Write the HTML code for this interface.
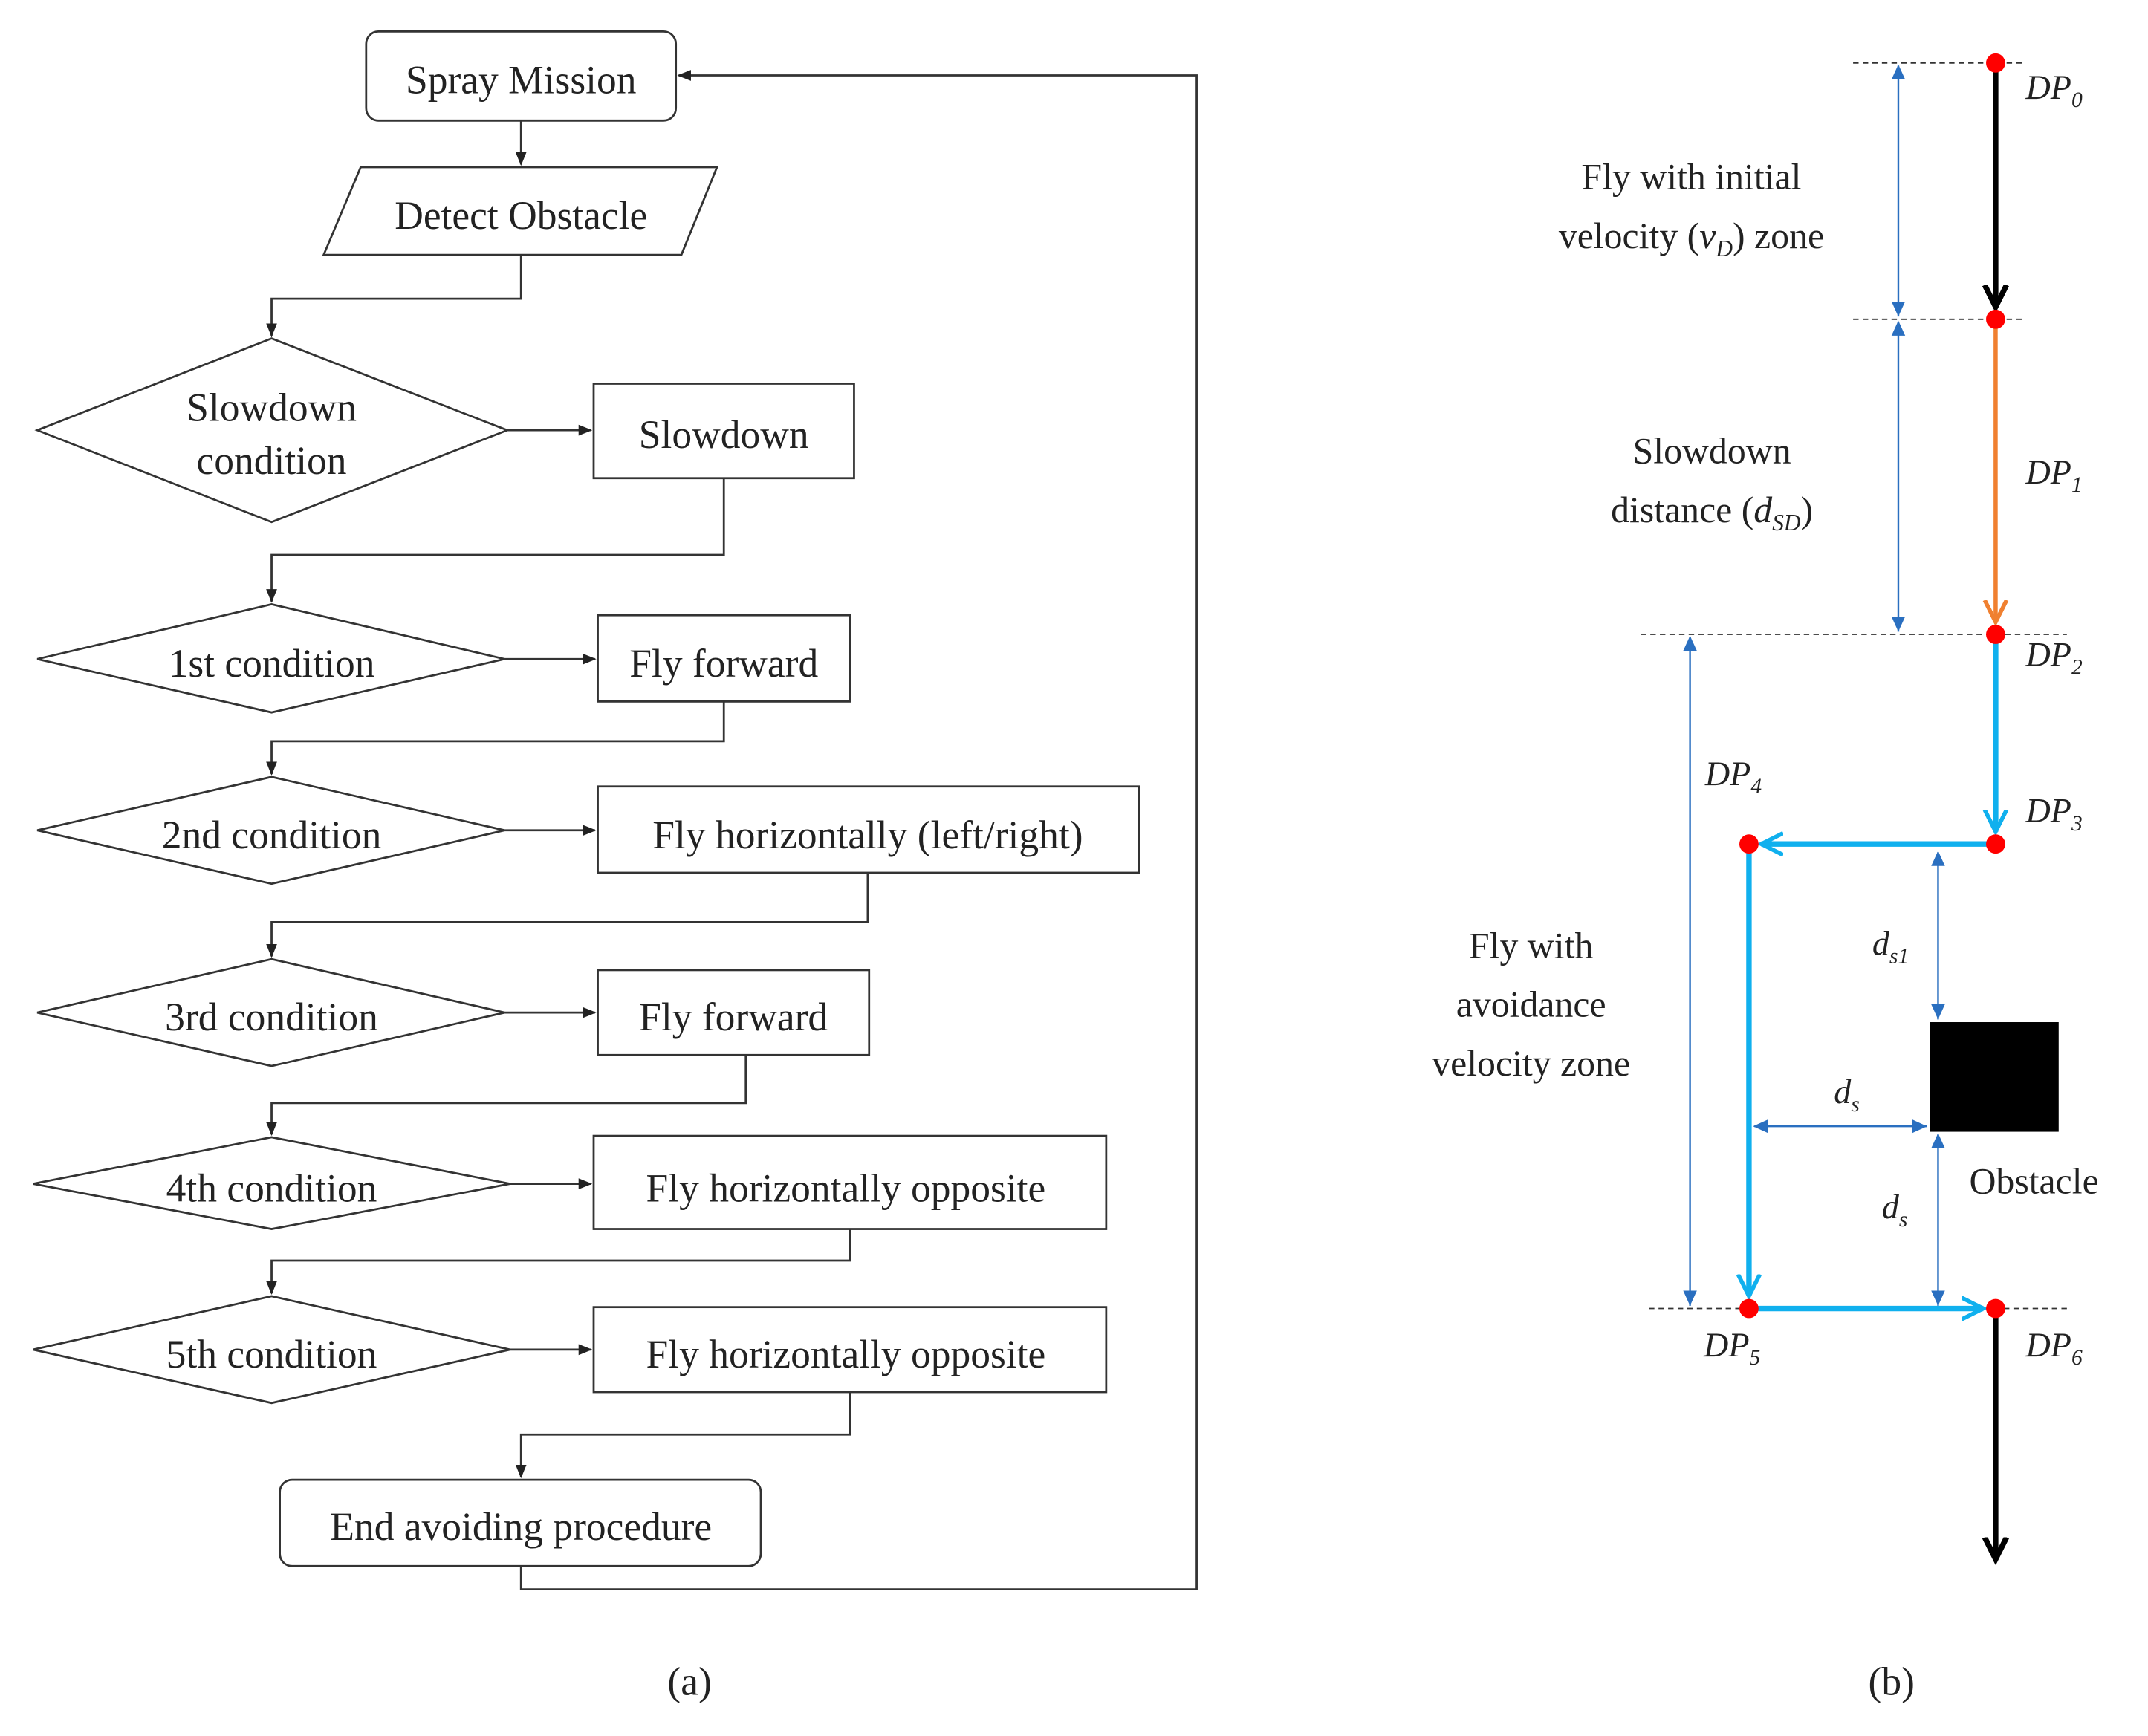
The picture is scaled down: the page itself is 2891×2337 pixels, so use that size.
<!DOCTYPE html>
<html><head><meta charset="utf-8">
<style>
html,body{margin:0;padding:0;background:#fff;}
svg{display:block;}
text{font-family:"Liberation Serif",serif;fill:#222;}
</style></head>
<body>
<svg width="2891" height="2337" viewBox="0 0 1567 1267" xmlns="http://www.w3.org/2000/svg">
<defs>
<marker id="a" markerWidth="10" markerHeight="10" refX="9" refY="5" orient="auto" markerUnits="userSpaceOnUse"><path d="M0,1 L10,5 L0,9 z" fill="#222"/></marker>
<marker id="bk" markerWidth="20" markerHeight="20" refX="16" refY="10" orient="auto" markerUnits="userSpaceOnUse"><path d="M0,2 L16,10 L0,18" fill="none" stroke="#000" stroke-width="4"/></marker>
<marker id="or" markerWidth="20" markerHeight="20" refX="16" refY="10" orient="auto" markerUnits="userSpaceOnUse"><path d="M0,2 L16,10 L0,18" fill="none" stroke="#f08030" stroke-width="3"/></marker>
<marker id="cy" markerWidth="20" markerHeight="20" refX="16" refY="10" orient="auto" markerUnits="userSpaceOnUse"><path d="M0,2 L16,10 L0,18" fill="none" stroke="#10b0ee" stroke-width="3"/></marker>
<marker id="bl" markerWidth="12" markerHeight="12" refX="11" refY="6" orient="auto" markerUnits="userSpaceOnUse"><path d="M0,1 L11,6 L0,11 z" fill="#2a6fc0"/></marker>
<marker id="bls" markerWidth="12" markerHeight="12" refX="1" refY="6" orient="auto" markerUnits="userSpaceOnUse"><path d="M11,1 L0,6 L11,11 z" fill="#2a6fc0"/></marker>
</defs>

<g fill="none" stroke="#333" stroke-width="1.5">
<rect x="267" y="23" width="226" height="65" rx="9" fill="#fff"/>
<polygon points="263,122 523,122 497,186 236,186" fill="#fff"/>
<polygon points="27,314 198,247 370,314 198,381"/>
<rect x="433" y="280" width="190" height="69"/>
<polygon points="27,481 198,441 368,481 198,520"/>
<rect x="436" y="449" width="184" height="63"/>
<polygon points="27,606 198,567 368,606 198,645"/>
<rect x="436" y="574" width="395" height="63"/>
<polygon points="27,739 198,700 368,739 198,778"/>
<rect x="436" y="708" width="198" height="62"/>
<polygon points="24,864 198,830 372,864 198,897"/>
<rect x="433" y="829" width="374" height="68"/>
<polygon points="24,985 198,946 372,985 198,1024"/>
<rect x="433" y="954" width="374" height="62"/>
<rect x="204" y="1080" width="351" height="63" rx="9"/>
</g>
<g fill="none" stroke="#333" stroke-width="1.5" marker-end="url(#a)">
<path d="M380,88 V120"/>
<path d="M380,186 V218 H198 V245"/>
<path d="M370,314 H431"/>
<path d="M528,349 V405 H198 V439"/>
<path d="M368,481 H434"/>
<path d="M528,512 V541 H198 V565"/>
<path d="M368,606 H434"/>
<path d="M633,637 V673 H198 V698"/>
<path d="M368,739 H434"/>
<path d="M544,770 V805 H198 V828"/>
<path d="M372,864 H431"/>
<path d="M620,897 V920 H198 V944"/>
<path d="M372,985 H431"/>
<path d="M620,1016 V1047 H380 V1078"/>
<path d="M380,1143 V1160 H873 V55 H495"/>
</g>
<g font-size="29" text-anchor="middle">
<text x="380" y="68">Spray Mission</text>
<text x="380" y="167">Detect Obstacle</text>
<text x="198" y="307">Slowdown</text>
<text x="198" y="346">condition</text>
<text x="528" y="327">Slowdown</text>
<text x="198" y="494">1st condition</text>
<text x="528" y="494">Fly forward</text>
<text x="198" y="619">2nd condition</text>
<text x="633" y="619">Fly horizontally (left/right)</text>
<text x="198" y="752">3rd condition</text>
<text x="535" y="752">Fly forward</text>
<text x="198" y="877">4th condition</text>
<text x="617" y="877">Fly horizontally opposite</text>
<text x="198" y="998">5th condition</text>
<text x="617" y="998">Fly horizontally opposite</text>
<text x="380" y="1124">End avoiding procedure</text>
<text x="503" y="1237">(a)</text>
<text x="1380" y="1237">(b)</text>
</g>

<g stroke="#333" stroke-width="1" stroke-dasharray="4,3">
<path d="M1352,46 H1478"/><path d="M1352,233 H1478"/>
<path d="M1197,463 H1508"/><path d="M1203,955 H1508"/>
</g>
<rect x="1408" y="746" width="94" height="80" fill="#000"/>
<g stroke="#2a6fc0" stroke-width="1.3" marker-end="url(#bl)" marker-start="url(#bls)">
<path d="M1385,48 V231"/><path d="M1385,235 V461"/>
<path d="M1233,465 V953"/>
<path d="M1414,622 V744"/>
<path d="M1280,822 H1406"/>
<path d="M1414,828 V953"/>
</g>
<path d="M1456,46 V224" stroke="#000" stroke-width="4" fill="none" marker-end="url(#bk)"/>
<path d="M1456,233 V454" stroke="#f08030" stroke-width="3" fill="none" marker-end="url(#or)"/>
<g stroke="#10b0ee" stroke-width="4" fill="none" marker-end="url(#cy)">
<path d="M1456,463 V607"/>
<path d="M1456,616 H1285"/>
<path d="M1276,616 V946"/>
<path d="M1276,955 H1447"/>
</g>
<path d="M1456,955 V1138" stroke="#000" stroke-width="4" fill="none" marker-end="url(#bk)"/>
<g fill="#f00">
<circle cx="1456" cy="46" r="7"/><circle cx="1456" cy="233" r="7"/>
<circle cx="1456" cy="463" r="7"/><circle cx="1456" cy="616" r="7"/>
<circle cx="1276" cy="616" r="7"/><circle cx="1276" cy="955" r="7"/>
<circle cx="1456" cy="955" r="7"/>
</g>
<g font-size="27" text-anchor="middle">
<text x="1234" y="138">Fly with initial</text>
<text x="1234" y="181">velocity (<tspan font-style="italic">v</tspan><tspan font-style="italic" font-size="17" dy="6">D</tspan><tspan dy="-6">) zone</tspan></text>
<text x="1249" y="338">Slowdown</text>
<text x="1249" y="381">distance (<tspan font-style="italic">d</tspan><tspan font-style="italic" font-size="17" dy="6">SD</tspan><tspan dy="-6">)</tspan></text>
<text x="1117" y="699">Fly with</text>
<text x="1117" y="742">avoidance</text>
<text x="1117" y="785">velocity zone</text>
<text x="1484" y="871">Obstacle</text>
</g>
<g font-size="25" font-style="italic">
<text x="1478" y="72">DP<tspan font-size="16" dy="6">0</tspan></text>
<text x="1478" y="353">DP<tspan font-size="16" dy="6">1</tspan></text>
<text x="1478" y="486">DP<tspan font-size="16" dy="6">2</tspan></text>
<text x="1478" y="600">DP<tspan font-size="16" dy="6">3</tspan></text>
<text x="1244" y="573">DP<tspan font-size="16" dy="6">4</tspan></text>
<text x="1243" y="990">DP<tspan font-size="16" dy="6">5</tspan></text>
<text x="1478" y="990">DP<tspan font-size="16" dy="6">6</tspan></text>
<text x="1366" y="697">d<tspan font-size="16" dy="6">s1</tspan></text>
<text x="1338" y="805">d<tspan font-size="16" dy="6">s</tspan></text>
<text x="1373" y="889">d<tspan font-size="16" dy="6">s</tspan></text>
</g>
</svg>
</body></html>
